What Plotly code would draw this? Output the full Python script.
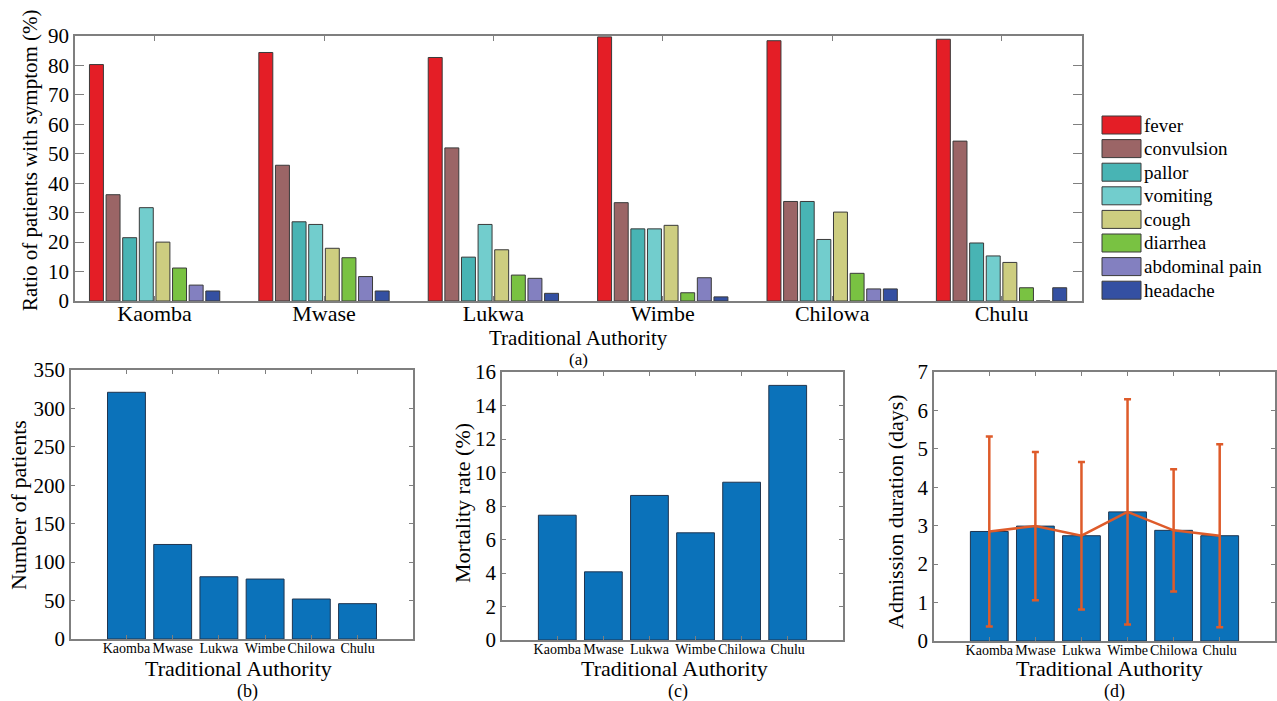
import plotly.graph_objects as go

W, H = 1277, 701

authorities = ["Kaomba", "Mwase", "Lukwa", "Wimbe", "Chilowa", "Chulu"]
symptoms = ["fever", "convulsion", "pallor", "vomiting", "cough", "diarrhea",
            "abdominal pain", "headache"]
symptom_colors = ["#E41E26", "#9B6566", "#48B4B4", "#72CDCD", "#CDCD80",
                  "#79C242", "#8380C0", "#3450A2"]

# ratio of patients with symptom (%) per authority, one list per symptom
fever = [80.3, 84.4, 82.7, 89.7, 88.4, 88.9]
convulsion = [36.1, 46.1, 52.0, 33.4, 33.8, 54.3]
pallor = [21.5, 26.9, 14.9, 24.5, 33.8, 19.7]
vomiting = [31.7, 26.0, 26.0, 24.5, 20.9, 15.3]
cough = [20.0, 17.9, 17.4, 25.7, 30.2, 13.1]
diarrhea = [11.2, 14.7, 8.8, 2.8, 9.4, 4.5]
abdominal_pain = [5.4, 8.3, 7.7, 7.9, 4.1, 0.0]
headache = [3.4, 3.4, 2.6, 1.4, 4.1, 4.5]
symptom_values = [fever, convulsion, pallor, vomiting, cough, diarrhea,
                  abdominal_pain, headache]

patients = [321, 123, 81, 78, 52, 46]
mortality = [7.45, 4.07, 8.63, 6.40, 9.42, 15.2]
admission_mean = [2.85, 2.99, 2.74, 3.36, 2.88, 2.74]
admission_sd = [2.47, 1.93, 1.92, 2.93, 1.59, 2.38]

SERIF = "Liberation Serif, Times New Roman, Times, serif"
AX = "#7F7F7F"
BLUE = "#0B72BA"
ORANGE = "#DE5B2A"


def px_x(p):
    return p / W


def px_y(p):
    return 1 - p / H


def f(size):
    return dict(family=SERIF, size=size, color="black")


fig = go.Figure()

# (a) grouped bars
for name, vals, col in zip(symptoms, symptom_values, symptom_colors):
    fig.add_trace(go.Bar(x=authorities, y=vals, name=name, marker_color=col,
                         marker_line=dict(color="#3A3A3A", width=1),
                         xaxis="x", yaxis="y", showlegend=False))

# (b)
fig.add_trace(go.Bar(x=authorities, y=patients, marker_color=BLUE, width=0.82,
                     marker_line=dict(color="#1F3550", width=1),
                     xaxis="x2", yaxis="y2", showlegend=False))
# (c)
fig.add_trace(go.Bar(x=authorities, y=mortality, marker_color=BLUE, width=0.82,
                     marker_line=dict(color="#1F3550", width=1),
                     xaxis="x3", yaxis="y3", showlegend=False))
# (d)
fig.add_trace(go.Bar(x=authorities, y=admission_mean, marker_color=BLUE, width=0.82,
                     marker_line=dict(color="#1F3550", width=1),
                     xaxis="x4", yaxis="y4", showlegend=False))
fig.add_trace(go.Scatter(x=authorities, y=admission_mean, mode="lines",
                         line=dict(color=ORANGE, width=2.5),
                         error_y=dict(type="data", array=admission_sd, visible=True,
                                      color=ORANGE, thickness=2.5, width=3.5),
                         xaxis="x4", yaxis="y4", showlegend=False))

common_axis = dict(showline=True, linecolor=AX, linewidth=1.5, mirror="ticks",
                   ticks="inside", tickcolor=AX, showgrid=False, zeroline=False,
                   automargin=False)

small_x = dict(common_axis, tickfont=f(14), range=[-1.2, 6.2], ticklen=4,
               tickangle=0, ticklabelstandoff=-5)

layout = dict(
    width=W, height=H, margin=dict(l=0, r=0, t=0, b=0, pad=0, autoexpand=False),
    paper_bgcolor="white", plot_bgcolor="white",
    barmode="group", bargap=0.215, bargroupgap=0.16,
    showlegend=False,
    xaxis=dict(common_axis, domain=[px_x(75), px_x(1082)], range=[-0.47, 5.475],
               ticklen=5, anchor="y", tickfont=f(22), ticklabelstandoff=-8),
    yaxis=dict(common_axis, domain=[px_y(301), px_y(36)], range=[0, 90],
               dtick=10, ticklen=9, anchor="x", tickfont=f(21)),
    xaxis2=dict(small_x, domain=[px_x(71), px_x(413)], anchor="y2"),
    yaxis2=dict(common_axis, domain=[px_y(639), px_y(370)], range=[0, 350],
                dtick=50, ticklen=4, anchor="x2", tickfont=f(21)),
    xaxis3=dict(small_x, domain=[px_x(502), px_x(843)], anchor="y3"),
    yaxis3=dict(common_axis, domain=[px_y(640), px_y(372)], range=[0, 16],
                dtick=2, ticklen=4, anchor="x3", tickfont=f(21)),
    xaxis4=dict(small_x, domain=[px_x(934), px_x(1275)], anchor="y4"),
    yaxis4=dict(common_axis, domain=[px_y(641), px_y(372)], range=[0, 7],
                dtick=1, ticklen=4, anchor="x4", tickfont=f(21)),
)
fig.update_layout(**layout)

# axis titles and panel labels (paper-positioned text)
texts = [
    ("Traditional Authority", 578, 338, 21, 0),
    ("(a)", 578, 359, 17, 0),
    ("Ratio of patients with symptom (%)", 30, 160, 21, -90),
    ("Traditional Authority", 238, 668, 22, 0),
    ("(b)", 247, 691, 18, 0),
    ("Number of patients", 18, 505, 22, -90),
    ("Traditional Authority", 674, 668, 22, 0),
    ("(c)", 678, 691, 18, 0),
    ("Mortality rate (%)", 462, 503, 22, -90),
    ("Traditional Authority", 1109, 668, 22, 0),
    ("(d)", 1114, 691, 18, 0),
    ("Admission duration (days)", 895, 512, 22, -90),
]
for txt, xc, yc, size, ang in texts:
    fig.add_annotation(text=txt, x=px_x(xc), y=px_y(yc), xref="paper", yref="paper",
                       xanchor="center", yanchor="middle", showarrow=False,
                       textangle=ang, font=f(size), borderpad=0)

# legend drawn as swatches + labels
for i, (name, col) in enumerate(zip(symptoms, symptom_colors)):
    top = 116 + i * 23.6
    fig.add_shape(type="rect", xref="paper", yref="paper",
                  x0=px_x(1102), x1=px_x(1141), y0=px_y(top + 18), y1=px_y(top),
                  fillcolor=col, line=dict(color="#3A3A3A", width=1))
    fig.add_annotation(text=name, x=px_x(1143), y=px_y(top + 9), xref="paper", yref="paper",
                       xanchor="left", yanchor="middle", showarrow=False, font=f(19),
                       borderpad=0)

fig.write_html("out.html", config={"displayModeBar": False},
               post_script="document.body.style.margin='0px';")
